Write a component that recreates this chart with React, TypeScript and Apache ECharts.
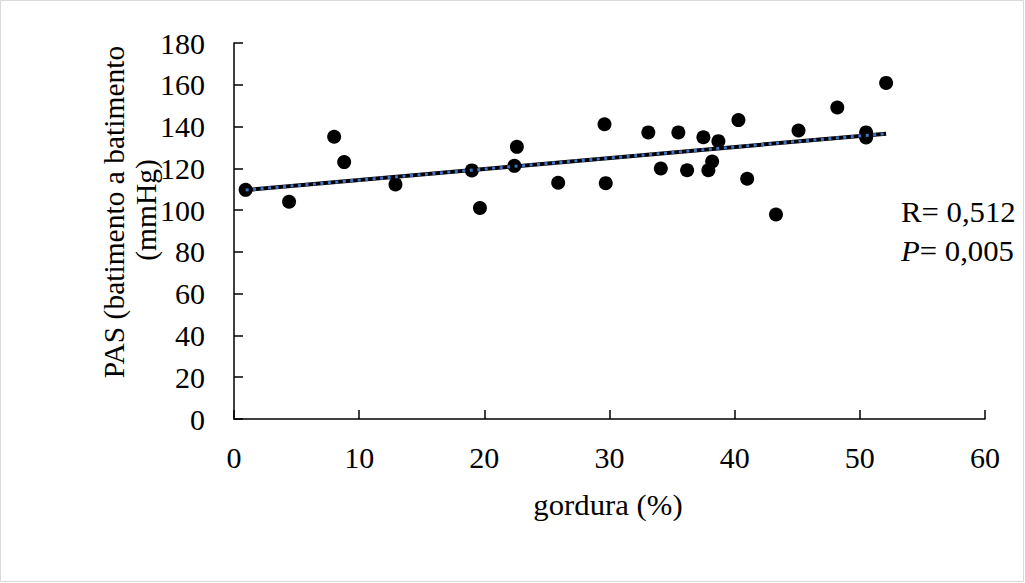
import React, { useEffect, useRef } from "react";
import * as echarts from "echarts";

const FAT_PCT = [0.93, 4.4, 8.0, 8.8, 12.9, 19.0, 19.65, 22.4, 22.6, 25.9, 29.6, 29.7, 33.1, 34.1, 35.5, 36.2, 37.5, 37.9, 38.2, 38.7, 40.3, 41.0, 43.3, 45.1, 48.2, 50.5, 50.5, 52.1];
const SBP = [109.7, 104.0, 135.1, 123.0, 112.3, 119.0, 101.0, 121.2, 130.3, 113.1, 141.1, 112.9, 137.2, 119.9, 137.2, 119.1, 134.9, 119.1, 123.3, 133.0, 143.1, 115.0, 97.9, 138.1, 149.1, 137.2, 134.8, 160.9];
const TREND_X = [0.93, 52.1];
const TREND_Y = [109.6, 136.6];
const X_TICKS = [0, 10, 20, 30, 40, 50, 60];
const Y_TICKS = [0, 20, 40, 60, 80, 100, 120, 140, 160, 180];
const X_TITLE = "gordura (%)";
const Y_TITLE = ["PAS (batimento a batimento", "(mmHg)"];
const STATS = { r: "0,512", p: "0,005" };

const FONT = '"Liberation Serif", "Times New Roman", serif';
const SX = 1.06;

export default function App() {
  const ref = useRef<HTMLDivElement>(null);
  useEffect(() => {
    if (!ref.current) return;
    const chart = echarts.init(ref.current, null, { renderer: "svg" });
    const points = FAT_PCT.map((x, i) => [x, SBP[i]]);
    const trend = TREND_X.map((x, i) => [x, TREND_Y[i]]);
    const axisCommon = {
      axisLine: { show: true, onZero: false, lineStyle: { color: "#000", width: 1.5 } },
      axisTick: { show: true, inside: true, length: 9, lineStyle: { color: "#000", width: 1.5 } },
      splitLine: { show: false },
    };
    chart.setOption({
      animation: false,
      backgroundColor: "#fff",
      textStyle: { fontFamily: FONT },
      grid: { left: 234, right: 40, top: 43, bottom: 164, containLabel: false },
      xAxis: {
        type: "value",
        min: X_TICKS[0],
        max: X_TICKS[X_TICKS.length - 1],
        interval: 10,
        ...axisCommon,
        axisLabel: { color: "#000", fontSize: 30, fontFamily: FONT, margin: 23 },
      },
      yAxis: {
        type: "value",
        min: Y_TICKS[0],
        max: Y_TICKS[Y_TICKS.length - 1],
        interval: 20,
        ...axisCommon,
        axisLabel: { color: "#000", fontSize: 30, fontFamily: FONT, margin: 29 },
      },
      series: [
        {
          type: "scatter",
          data: points,
          symbol: "circle",
          symbolSize: 14,
          itemStyle: { color: "#000", opacity: 1 },
          z: 2,
        },
        {
          type: "line",
          data: trend,
          showSymbol: false,
          symbol: "none",
          lineStyle: { color: "#000", width: 4, cap: "butt", opacity: 1 },
          z: 3,
        },
        {
          type: "line",
          data: trend,
          showSymbol: false,
          symbol: "none",
          lineStyle: { color: "#4472C4", width: 3, type: [3, 4.5], cap: "butt", opacity: 1 },
          z: 5,
        },
      ],
      graphic: [
        {
          type: "rect",
          shape: { x: 0.5, y: 0.5, width: 1023, height: 581 },
          style: { fill: "none", stroke: "#d9d9d9", lineWidth: 1 },
          silent: true,
        },
        {
          type: "text",
          x: 608,
          y: 505,
          scaleX: SX,
          style: {
            text: X_TITLE,
            font: `29px ${FONT}`,
            fill: "#000",
            textAlign: "center",
            textVerticalAlign: "middle",
          },
        },
        {
          type: "text",
          x: 114,
          y: 212,
          rotation: Math.PI / 2,
          style: {
            text: Y_TITLE[0],
            font: `29.5px ${FONT}`,
            fill: "#000",
            textAlign: "center",
            textVerticalAlign: "middle",
          },
        },
        {
          type: "text",
          x: 146,
          y: 210,
          rotation: Math.PI / 2,
          style: {
            text: Y_TITLE[1],
            font: `29.5px ${FONT}`,
            fill: "#000",
            textAlign: "center",
            textVerticalAlign: "middle",
          },
        },
        {
          type: "text",
          x: 901,
          y: 212,
          scaleX: SX,
          style: {
            text: "R= " + STATS.r,
            font: `29px ${FONT}`,
            fill: "#000",
            textAlign: "left",
            textVerticalAlign: "middle",
          },
        },
        {
          type: "text",
          x: 901,
          y: 251,
          scaleX: SX,
          style: {
            text: "{i|P}= " + STATS.p,
            font: `29px ${FONT}`,
            fill: "#000",
            textAlign: "left",
            textVerticalAlign: "middle",
            rich: { i: { fontStyle: "italic", fontSize: 29, fontFamily: FONT, fill: "#000" } },
          },
        },
      ],
    });
    return () => chart.dispose();
  }, []);
  return (
    <div
      ref={ref}
      style={{ position: "fixed", left: 0, top: 0, width: 1025, height: 583 }}
    />
  );
}
